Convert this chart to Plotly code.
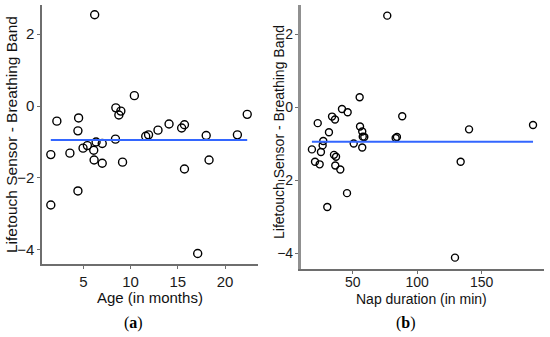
import numpy as np
import plotly.graph_objects as go

# Panel (a): Age (months) vs difference
age_months = [6.2, 10.4, 8.44, 8.97, 8.76, 2.2, 4.5, 4.43, 22.34, 14.07, 15.7,
              15.4, 12.9, 11.9, 11.6, 18.0, 21.3, 8.4, 6.35, 7.0, 5.43, 4.97,
              6.1, 1.56, 3.58, 6.14, 7.0, 9.15, 18.3, 15.7, 1.56, 4.43, 17.1]
diff_a = [2.54, 0.29, -0.05, -0.14, -0.25, -0.42, -0.33, -0.69, -0.23, -0.5, -0.52,
          -0.61, -0.67, -0.8, -0.84, -0.82, -0.8, -0.92, -1.0, -1.04, -1.1, -1.17,
          -1.23, -1.35, -1.31, -1.5, -1.59, -1.56, -1.5, -1.75, -2.75, -2.36, -4.1]

# Panel (b): Nap duration (min) vs difference
nap_min = [76.8, 55.4, 41.7, 46.1, 34.0, 36.3, 22.9, 88.4, 140.2, 189.8, 31.6,
           55.7, 57.4, 59.0, 57.8, 84.3, 83.3, 27.2, 50.8, 26.7, 57.4, 18.4,
           25.4, 35.5, 37.1, 133.7, 20.8, 24.4, 36.5, 40.4, 45.6, 30.3, 129.3]
diff_b = [2.52, 0.28, -0.04, -0.13, -0.25, -0.33, -0.43, -0.24, -0.6, -0.48, -0.68,
          -0.52, -0.66, -0.81, -0.80, -0.81, -0.84, -0.92, -0.99, -1.04, -1.10, -1.15,
          -1.22, -1.30, -1.35, -1.49, -1.49, -1.56, -1.59, -1.70, -2.35, -2.73, -4.12]

y_ticks = [-4, -2, 0, 2]
x_ticks_a = [5, 10, 15, 20]
x_ticks_b = [50, 100, 150]

y_title = "Lifetouch Sensor - Breathing Band"
x_title_a = "Age (in months)"
x_title_b = "Nap duration (in min)"

W, H = 550, 337
def px(x): return x / W
def py(y): return 1 - y / H

fig = go.Figure()

marker = dict(symbol="circle-open", size=8, color="black", line=dict(width=1.4, color="black"))
fig.add_trace(go.Scatter(x=age_months, y=diff_a, mode="markers", marker=marker,
                         xaxis="x", yaxis="y", showlegend=False))
fig.add_trace(go.Scatter(x=nap_min, y=diff_b, mode="markers",
                         marker=dict(marker, size=7),
                         xaxis="x2", yaxis="y2", showlegend=False))

mean_a = float(np.mean(diff_a))
mean_b = float(np.mean(diff_b))
fig.add_trace(go.Scatter(x=[min(age_months), max(age_months)], y=[mean_a, mean_a],
                         mode="lines", line=dict(color="#3366FF", width=2),
                         xaxis="x", yaxis="y", showlegend=False))
fig.add_trace(go.Scatter(x=[min(nap_min), max(nap_min)], y=[mean_b, mean_b],
                         mode="lines", line=dict(color="#3366FF", width=2),
                         xaxis="x2", yaxis="y2", showlegend=False))

tickfont = dict(family="Liberation Sans, Arial, sans-serif", size=15, color="#1a1a1a")
axis_common = dict(showgrid=False, zeroline=False, showline=True, linecolor="#6e6e6e",
                   linewidth=2, ticks="outside", ticklen=3, tickcolor="#6e6e6e",
                   tickwidth=1, tickfont=tickfont)

fig.update_layout(
    width=W, height=H,
    margin=dict(l=0, r=0, t=0, b=0),
    paper_bgcolor="white", plot_bgcolor="white",
    xaxis=dict(axis_common, domain=[px(42.3), px(258)], range=[0.66, 23.48],
               tickvals=x_ticks_a, anchor="y"),
    yaxis=dict(axis_common, domain=[py(264.3), py(5)], range=[-4.40, 2.81],
               tickvals=y_ticks, anchor="x"),
    xaxis2=dict(axis_common, domain=[px(300.7), px(544)], range=[9.7, 198.3],
                tickvals=x_ticks_b, anchor="y2", ticklabelstandoff=-4,
                tickfont=dict(tickfont, size=14)),
    yaxis2=dict(axis_common, domain=[py(269.3), py(4.7)], range=[-4.44, 2.82],
                tickvals=y_ticks, anchor="x2", linecolor="#909090", linewidth=2.5,
                tickfont=dict(tickfont, size=14), ticklabelstandoff=-1),
)

title_font = dict(family="Liberation Sans, Arial, sans-serif", size=15, color="#111111")
annotations = [
    dict(text=x_title_a, x=px(150), y=py(297), xref="paper", yref="paper",
         showarrow=False, font=title_font, xanchor="center", yanchor="middle"),
    dict(text=x_title_b, x=px(422), y=py(299), xref="paper", yref="paper",
         showarrow=False, font=dict(title_font, size=14), xanchor="center", yanchor="middle"),
    dict(text=y_title, x=px(12), y=py(135), xref="paper", yref="paper", textangle=-90,
         showarrow=False, font=dict(title_font, size=15.5), xanchor="center", yanchor="middle"),
    dict(text=y_title, x=px(279), y=py(132), xref="paper", yref="paper", textangle=-90,
         showarrow=False, font=dict(title_font, size=14), xanchor="center", yanchor="middle"),
    dict(text="(<b>a</b>)", x=px(133), y=py(323), xref="paper", yref="paper",
         showarrow=False, font=dict(family="Liberation Serif, serif", size=16, color="black"),
         xanchor="center", yanchor="middle"),
    dict(text="(<b>b</b>)", x=px(406), y=py(323), xref="paper", yref="paper",
         showarrow=False, font=dict(family="Liberation Serif, serif", size=16, color="black"),
         xanchor="center", yanchor="middle"),
]
fig.update_layout(annotations=annotations)

fig.write_html("out.html", config={"displayModeBar": False},
               post_script="document.body.style.margin='0px';")
